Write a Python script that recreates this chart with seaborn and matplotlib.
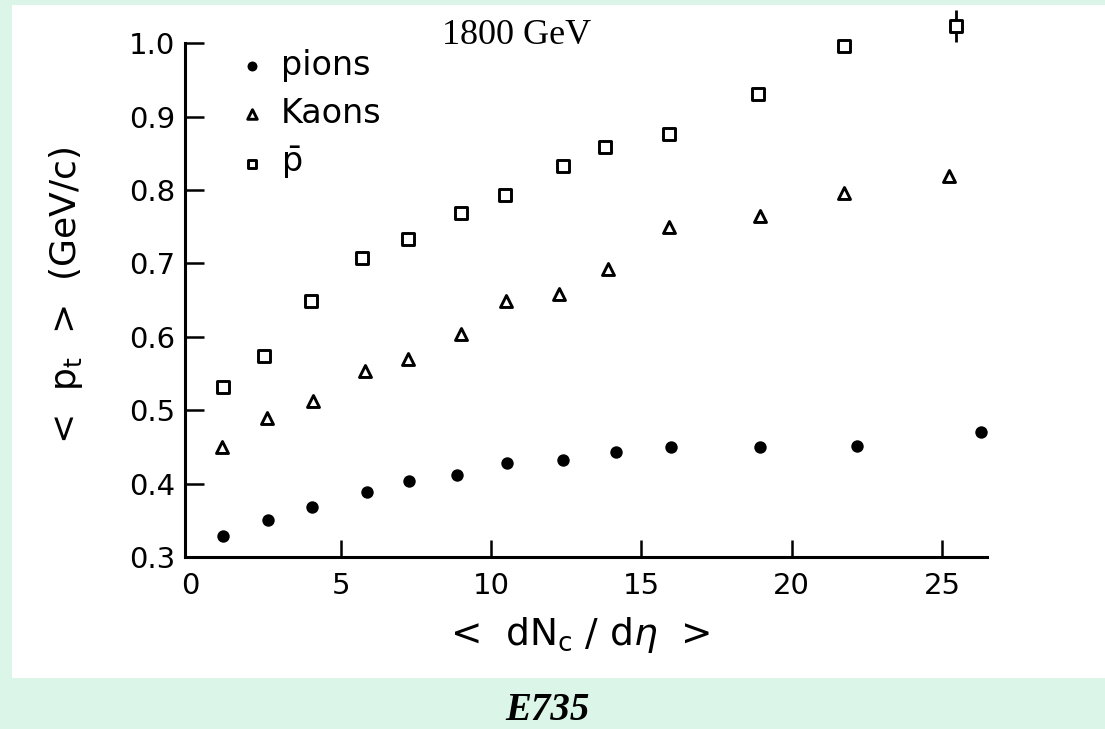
import numpy as np
import pandas as pd
import matplotlib
matplotlib.use("Agg")
import matplotlib.pyplot as plt
from matplotlib.patches import Rectangle
import seaborn as sns

# <dN_c/deta> and <p_t> (GeV/c) per particle species, E735 at 1800 GeV
pion_x = [1.08, 2.58, 4.04, 5.89, 7.28, 8.86, 10.53, 12.40, 14.17, 15.99, 18.95, 22.16, 26.30]
pion_y = [0.329, 0.350, 0.368, 0.389, 0.404, 0.412, 0.428, 0.432, 0.443, 0.450, 0.450, 0.451, 0.470]

kaon_x = [1.05, 2.55, 4.08, 5.82, 7.25, 8.99, 10.50, 12.27, 13.90, 15.92, 18.95, 21.74, 25.24]
kaon_y = [0.450, 0.489, 0.512, 0.553, 0.570, 0.604, 0.649, 0.658, 0.692, 0.749, 0.764, 0.796, 0.819]

pbar_x = [1.08, 2.45, 4.01, 5.70, 7.25, 8.99, 10.47, 12.40, 13.80, 15.92, 18.88, 21.74, 25.48]
pbar_y = [0.531, 0.574, 0.649, 0.707, 0.733, 0.769, 0.793, 0.832, 0.858, 0.876, 0.931, 0.996, 1.023]
pbar_last_err = 0.022

species = ["pions", "Kaons", r"$\bar{\mathrm{p}}$"]
x_ticks = [0, 5, 10, 15, 20, 25]
y_ticks = [0.3, 0.4, 0.5, 0.6, 0.7, 0.8, 0.9, 1.0]

df = pd.concat([
    pd.DataFrame({"x": pion_x, "y": pion_y, "species": species[0]}),
    pd.DataFrame({"x": kaon_x, "y": kaon_y, "species": species[1]}),
    pd.DataFrame({"x": pbar_x, "y": pbar_y, "species": species[2]}),
])

sns.set_theme(style="white")
plt.rcParams["font.family"] = ["DejaVu Sans"]
plt.rcParams["mathtext.fontset"] = "dejavusans"
plt.rcParams["text.color"] = "black"
plt.rcParams["axes.labelcolor"] = "black"

GREEN = "#DBF6E9"
fig = plt.figure(figsize=(11.05, 7.29), dpi=100, facecolor=GREEN)
fig.patches.append(Rectangle((12 / 1105, 1 - 678 / 729), 1.0, (678 - 5) / 729,
                             transform=fig.transFigure, facecolor="white",
                             edgecolor="none", zorder=-5))

ax = fig.add_axes([185 / 1105, 1 - 557 / 729, (987 - 185) / 1105, (557 - 5) / 729])
ax.set_facecolor("none")
ax.set_zorder(1)

styles = {
    species[0]: dict(marker="o", s=80, color="black", linewidth=0),
    species[1]: dict(marker="^", s=74, facecolor="white", edgecolor="black", linewidth=2.1),
    species[2]: dict(marker="s", s=64, facecolor="white", edgecolor="black", linewidth=2.1),
}
for name in species:
    sub = df[df["species"] == name]
    sns.scatterplot(data=sub, x="x", y="y", ax=ax, label=name, zorder=3,
                    clip_on=False, **styles[name])

# error bar on the highest-multiplicity antiproton point
ax.errorbar(pbar_x[-1], pbar_y[-1], yerr=pbar_last_err, fmt="none",
            ecolor="black", elinewidth=2.0, capsize=0, zorder=2, clip_on=False)

ax.set_xlim(-0.18, 26.5)
ax.set_ylim(0.3, 1.052)
ax.set_xticks(x_ticks)
ax.set_xticklabels([str(t) for t in x_ticks])
ax.set_yticks(y_ticks)
ax.set_yticklabels([f"{t:.1f}" for t in y_ticks])

for side in ("top", "right"):
    ax.spines[side].set_visible(False)
for side in ("left", "bottom"):
    ax.spines[side].set_linewidth(2.2)
    ax.spines[side].set_color("black")
ax.spines["left"].set_bounds(0.3, 1.0)

ax.tick_params(axis="x", bottom=True, direction="in", length=12, width=1.8,
               pad=11, labelsize=21, colors="black", labelcolor="black")
ax.tick_params(axis="y", left=True, direction="in", length=14, width=1.8,
               pad=7, labelsize=21, colors="black", labelcolor="black")
# the origin tick sits on the left spine
ax.xaxis.get_major_ticks()[0].tick1line.set_visible(False)

ax.set_xlabel(r"<  dN$_\mathrm{c}$ / d$\eta$  >", fontsize=27, color="black")
ax.xaxis.set_label_coords((580 - 185) / 802, -(635 - 557) / 552)
ax.xaxis.label.set_va("center")
ax.set_ylabel(r"<  p$_\mathrm{t}$  >  (GeV/c)", fontsize=26, color="black")
ax.yaxis.set_label_coords(-(185 - 66) / 802, 1 - (295 - 5) / 552)
ax.yaxis.label.set_va("center")

leg = ax.legend(loc="upper left", bbox_to_anchor=(0.063, 0.921), frameon=False,
                fontsize=24, markerscale=0.8, handlelength=1.0,
                handletextpad=0.35, labelspacing=0.45, borderpad=0,
                borderaxespad=0)

fig.text(517 / 1105, 1 - 35 / 729, "1800 GeV", family="Liberation Serif",
         fontsize=26, ha="center", va="center", color="black")
fig.text(547 / 1105, 1 - 710 / 729, "E735", family="Liberation Serif",
         fontsize=28, fontweight="bold", fontstyle="italic",
         ha="center", va="center", color="black")

fig.savefig("out.png", dpi=100, facecolor=GREEN)
